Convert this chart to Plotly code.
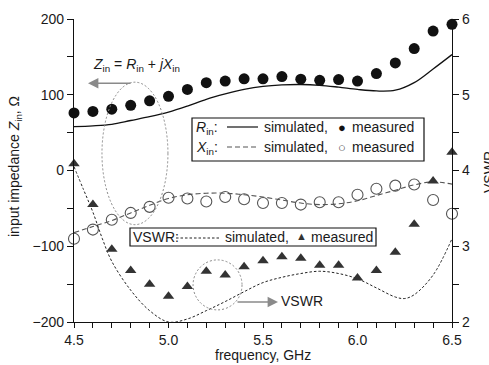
import plotly.graph_objects as go

# ---------------- data ----------------
freq = [4.5, 4.6, 4.7, 4.8, 4.9, 5.0, 5.1, 5.2, 5.3, 5.4, 5.5,
        5.6, 5.7, 5.8, 5.9, 6.0, 6.1, 6.2, 6.3, 6.4, 6.5]

rin_sim = [58, 59, 61, 66, 71, 77, 85, 94, 101, 107, 111,
           113, 113.5, 112.5, 110, 107, 105, 106, 116, 134, 153]
rin_meas = [76, 78, 81, 86, 92, 98, 107, 116, 118, 121, 121,
            124, 120.5, 119, 120, 118, 128, 142, 161, 184, 193]

xin_sim = [-82, -74, -66, -56, -46, -37, -32, -30, -30, -32, -35,
           -39, -43, -45, -44, -40, -33, -26, -19, -15, -18]
xin_meas = [-90, -78, -65, -56, -48, -36, -37, -41, -35, -38, -43,
            -43, -45, -42, -42, -32, -24, -20, -18.5, -39, -57]

vswr_freq = [4.5, 4.55, 4.6, 4.65, 4.7, 4.8, 4.9, 5.0, 5.1, 5.2, 5.3, 5.4, 5.5,
             5.6, 5.7, 5.8, 5.9, 6.0, 6.1, 6.2, 6.25, 6.3, 6.4, 6.5]
vswr_sim = [4.05, 3.75, 3.45, 3.1, 2.8, 2.42, 2.15, 2.0, 2.04, 2.15, 2.27, 2.4, 2.52,
            2.59, 2.64, 2.67, 2.64, 2.57, 2.45, 2.33, 2.31, 2.36, 2.62, 3.1]
vswr_meas = [4.09, 3.55, 2.96, 2.68, 2.5, 2.34, 2.47, 2.67, 2.62, 2.73, 2.81,
             2.86, 2.84, 2.75, 2.75, 2.58, 2.68, 2.92, 3.29, 3.86, 4.24]

x_ticks = [4.5, 5.0, 5.5, 6.0, 6.5]
y_ticks = [-200, -100, 0, 100, 200]
y2_ticks = [2, 3, 4, 5, 6]

# ---------------- layout helpers (pixels -> paper) ----------------
W, H = 489, 365
PL, PT, PW, PH = 74, 19, 378, 303
def px(x):
    return (x - PL) / PW
def py(y):
    return (PT + PH - y) / PH

FONT = "Liberation Sans, Arial, Helvetica, sans-serif"
FS = 14
TXT = "#1a1a1a"

fig = go.Figure()

fig.add_trace(go.Scatter(x=freq, y=rin_sim, mode="lines", line=dict(color="#111", width=1.3, shape="spline"),
                         showlegend=False))
fig.add_trace(go.Scatter(x=freq, y=xin_sim, mode="lines",
                         line=dict(color="#555", width=1.1, dash="5px,3px", shape="spline"), showlegend=False))
fig.add_trace(go.Scatter(x=vswr_freq, y=vswr_sim, mode="lines", yaxis="y2",
                         line=dict(color="#222", width=1.0, dash="2.5px,2px", shape="spline"), showlegend=False))
fig.add_trace(go.Scatter(x=freq, y=rin_meas, mode="markers", cliponaxis=False,
                         marker=dict(symbol="circle", size=11, color="#111", line=dict(width=0)), showlegend=False))
fig.add_trace(go.Scatter(x=freq, y=xin_meas, mode="markers", cliponaxis=False,
                         marker=dict(symbol="circle-open", size=11, color="#555", line=dict(width=1.1)),
                         showlegend=False))
fig.add_trace(go.Scatter(x=freq, y=vswr_meas, mode="markers", yaxis="y2", cliponaxis=False,
                         marker=dict(symbol="triangle-up", size=10, color="#333", line=dict(width=0)),
                         showlegend=False))

axis_common = dict(showline=True, linecolor="#111", linewidth=1.2, showgrid=False, zeroline=False,
                   ticks="outside", tickcolor="#111", tickwidth=1, ticklen=6,
                   tickfont=dict(family=FONT, size=FS, color=TXT))

fig.update_layout(
    width=W, height=H,
    margin=dict(l=PL, r=W - PL - PW, t=PT, b=H - PT - PH),
    paper_bgcolor="white", plot_bgcolor="white",
    font=dict(family=FONT, size=FS, color=TXT),
    xaxis=dict(range=[4.5, 6.5], tickvals=x_ticks, ticktext=[f"{v:.1f}" for v in x_ticks],
               minor=dict(tickmode="linear", tick0=4.5, dtick=0.1, ticks="outside", ticklen=5,
                          tickcolor="#111", showgrid=False),
               **{**axis_common, "ticklen": 5}),
    yaxis=dict(range=[-200, 200], tickvals=y_ticks, ticktext=[f"{v:d}".replace("-", "\u2212") for v in y_ticks],
               minor=dict(tickmode="linear", tick0=-200, dtick=50, ticks="outside", ticklen=6,
                          tickcolor="#111", showgrid=False),
               **axis_common),
    yaxis2=dict(range=[2, 6], overlaying="y", side="right", anchor="x", tickvals=y2_ticks,
                ticktext=[str(v) for v in y2_ticks],
                minor=dict(tickmode="linear", tick0=2, dtick=0.5, ticks="outside", ticklen=6,
                           tickcolor="#111", showgrid=False),
                **axis_common),
)

ann = []
def text(xp, yp, s, xanchor="left", size=FS, color=TXT, angle=0, yanchor="middle"):
    ann.append(dict(x=xp, y=yp, xref="paper", yref="paper", text=s, showarrow=False,
                    xanchor=xanchor, yanchor=yanchor, textangle=angle,
                    font=dict(family=FONT, size=size, color=color)))

# axis titles
text(px(15), py(167), "input impedance <i>Z</i><sub>in</sub>, \u03a9", xanchor="center", angle=-90)
text(px(263), py(355), "frequency, GHz", xanchor="center")
text(px(489), py(172), "VSWR", xanchor="center", angle=-90)

# Zin annotation
text(px(91), py(65), "<i>Z</i><sub>in</sub> = <i>R</i><sub>in</sub> + <i>jX</i><sub>in</sub>")
# VSWR annotation text
text(px(279), py(301), "VSWR")

# legend box 1
text(px(194), py(128), "<i>R</i><sub>in</sub>:")
text(px(194), py(148), "<i>X</i><sub>in</sub>:")
text(px(262), py(127), "simulated,")
text(px(262), py(147), "simulated,")
text(px(342), py(127), "\u25cf", xanchor="center", size=13, color="#111")
text(px(342), py(147), "\u25cb", xanchor="center", size=13, color="#444")
text(px(350), py(127), "measured")
text(px(350), py(147), "measured")
# legend box 2
text(px(131), py(237), "VSWR:")
text(px(223), py(237), "simulated,")
text(px(301), py(236), "\u25b2", xanchor="center", size=11, color="#333")
text(px(309), py(237), "measured")

# arrows (gray)
ann.append(dict(x=4.5 + (88 - 74) / 189, y=(170 - 83) / 0.755, xref="x", yref="y", ax=44, ay=0,
                showarrow=True, arrowhead=2, arrowsize=1.3, arrowwidth=1.6, arrowcolor="#8a8a8a", text=""))
ann.append(dict(x=4.5 + (278 - 74) / 189, y=(170 - 301) / 0.755, xref="x", yref="y", ax=-42, ay=0,
                showarrow=True, arrowhead=2, arrowsize=1.3, arrowwidth=1.6, arrowcolor="#8a8a8a", text=""))

shapes = [
    # ellipses
    dict(type="circle", xref="x", yref="y", x0=4.648, x1=4.997, y0=-71.5, y1=116.6,
         line=dict(color="#888", width=1, dash="2px,2px")),
    dict(type="circle", xref="x", yref="y", x0=5.13, x1=5.389, y0=-184, y1=-118,
         line=dict(color="#888", width=1, dash="2px,2px")),
    # legend boxes
    dict(type="rect", xref="paper", yref="paper", x0=px(192), x1=px(424), y0=py(161), y1=py(118),
         line=dict(color="#111", width=1.2), fillcolor="white", layer="above"),
    dict(type="rect", xref="paper", yref="paper", x0=px(130), x1=px(376), y0=py(246), y1=py(228),
         line=dict(color="#111", width=1.2), fillcolor="white", layer="above"),
    # legend line samples
    dict(type="line", xref="paper", yref="paper", x0=px(227), x1=px(258), y0=py(127), y1=py(127),
         line=dict(color="#111", width=1.2), layer="above"),
    dict(type="line", xref="paper", yref="paper", x0=px(227), x1=px(258), y0=py(147), y1=py(147),
         line=dict(color="#555", width=1.1, dash="5px,3px"), layer="above"),
    dict(type="line", xref="paper", yref="paper", x0=px(176), x1=px(220), y0=py(238), y1=py(238),
         line=dict(color="#222", width=1.0, dash="2.5px,2px"), layer="above"),
]

fig.update_layout(annotations=ann, shapes=shapes)
fig.write_html("out.html")
